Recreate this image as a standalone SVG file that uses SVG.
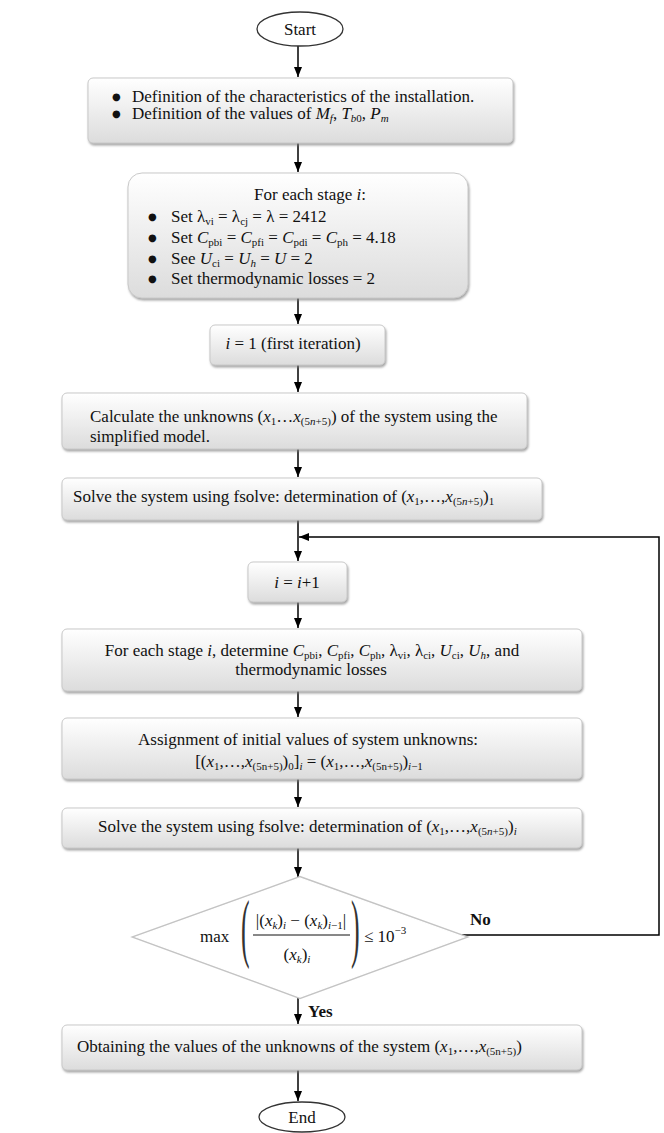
<svg xmlns="http://www.w3.org/2000/svg" width="664" height="1133" viewBox="0 0 664 1133">
<style>
text{font-family:"Liberation Serif","Times New Roman",serif;font-size:17px;fill:#111}
.box{fill:url(#g);stroke:#c9c9c9;stroke-width:1;filter:url(#sh)}
.term{fill:#fff;stroke:#333;stroke-width:1.3}
.con{fill:none;stroke:#000;stroke-width:1.5}
.arr{marker-end:url(#ah)}
.it{font-style:italic}
.sub{font-size:11px}
.b{font-weight:bold}
.mid{text-anchor:middle}
.bul{font-family:"DejaVu Sans",sans-serif;font-size:10px}
.par{font-size:76px;fill:#333}
</style>
<defs>
<linearGradient id="g" x1="0" y1="0" x2="0" y2="1">
<stop offset="0" stop-color="#ffffff"/>
<stop offset="1" stop-color="#dcdcdc"/>
</linearGradient>
<filter id="sh" x="-5%" y="-20%" width="115%" height="150%">
<feDropShadow dx="1" dy="2" stdDeviation="1" flood-color="#808080" flood-opacity="0.7"/>
</filter>
<marker id="ah" markerUnits="userSpaceOnUse" markerWidth="10" markerHeight="8" refX="10" refY="4" orient="auto">
<path d="M0,0 L10,4 L0,8 z" fill="#000"/>
</marker>
</defs>

<g id="connectors">
<line class="con arr" x1="298" y1="46" x2="298" y2="77"/>
<line class="con arr" x1="298" y1="143" x2="298" y2="172"/>
<line class="con arr" x1="298" y1="298" x2="298" y2="324"/>
<line class="con arr" x1="298" y1="365" x2="298" y2="392"/>
<line class="con arr" x1="298" y1="449" x2="298" y2="477"/>
<line class="con arr" x1="298" y1="520" x2="298" y2="561"/>
<polyline class="con arr" points="462,935 659,935 659,537 299,537"/>
<line class="con arr" x1="298" y1="602" x2="298" y2="628"/>
<line class="con arr" x1="298" y1="691" x2="298" y2="717"/>
<line class="con arr" x1="298" y1="779" x2="298" y2="807"/>
<line class="con arr" x1="298" y1="848" x2="298" y2="877"/>
<line class="con arr" x1="298" y1="997" x2="298" y2="1024"/>
<line class="con arr" x1="298" y1="1070" x2="298" y2="1101"/>
<text class="b" x="470" y="925">No</text>
<text class="b" x="308" y="1017">Yes</text>
</g>

<g id="start">
<ellipse class="term" cx="300" cy="29" rx="43" ry="17"/>
<text class="mid" x="300" y="35">Start</text>
</g>

<g id="definition">
<rect class="box" x="88" y="78" width="425" height="65" rx="5"/>
<text class="bul" x="112" y="100">●</text>
<text x="132" y="102">Definition of the characteristics of the installation.</text>
<text class="bul" x="112" y="117">●</text>
<text x="132" y="119">Definition of the values of <tspan class="it">M</tspan><tspan class="sub it" dy="3">f</tspan><tspan dy="-3">, </tspan><tspan class="it">T</tspan><tspan class="sub" dy="3"><tspan class="it">b</tspan>0</tspan><tspan dy="-3">, </tspan><tspan class="it">P</tspan><tspan class="sub it" dy="3">m</tspan></text>
</g>

<g id="init">
<rect class="box" x="128" y="173" width="340" height="125" rx="14"/>
<text class="mid" x="310" y="200">For each stage <tspan class="it">i</tspan>:</text>
<text class="bul" x="148" y="220">●</text>
<text x="171" y="222">Set λ<tspan class="sub" dy="3">vi</tspan><tspan dy="-3"> = λ</tspan><tspan class="sub" dy="3">cj</tspan><tspan dy="-3"> = λ = 2412</tspan></text>
<text class="bul" x="148" y="241">●</text>
<text x="171" y="243">Set <tspan class="it">C</tspan><tspan class="sub" dy="3">pbi</tspan><tspan dy="-3"> = </tspan><tspan class="it">C</tspan><tspan class="sub" dy="3">pfi</tspan><tspan dy="-3"> = </tspan><tspan class="it">C</tspan><tspan class="sub" dy="3">pdi</tspan><tspan dy="-3"> = </tspan><tspan class="it">C</tspan><tspan class="sub" dy="3">ph</tspan><tspan dy="-3"> = 4.18</tspan></text>
<text class="bul" x="148" y="262">●</text>
<text x="171" y="264">See <tspan class="it">U</tspan><tspan class="sub" dy="3">ci</tspan><tspan dy="-3"> = </tspan><tspan class="it">U</tspan><tspan class="sub it" dy="3">h</tspan><tspan dy="-3"> = </tspan><tspan class="it">U</tspan> = 2</text>
<text class="bul" x="148" y="282">●</text>
<text x="171" y="284">Set thermodynamic losses = 2</text>
</g>

<g id="i1">
<rect class="box" x="210" y="325" width="175" height="40" rx="5"/>
<text class="mid" x="293" y="349"><tspan class="it">i</tspan> = 1 (first iteration)</text>
</g>

<g id="calc">
<rect class="box" x="62" y="393" width="465" height="56" rx="5"/>
<text x="90" y="422">Calculate the unknowns (<tspan class="it">x</tspan><tspan class="sub" dy="3">1</tspan><tspan dy="-3">…</tspan><tspan class="it">x</tspan><tspan class="sub" dy="3">(5<tspan class="it">n</tspan>+5)</tspan><tspan dy="-3">) of the system using the</tspan></text>
<text x="90" y="442">simplified model.</text>
</g>

<g id="solve1">
<rect class="box" x="62" y="478" width="480" height="42" rx="5"/>
<text x="73" y="502">Solve the system using fsolve: determination of (<tspan class="it">x</tspan><tspan class="sub" dy="3">1</tspan><tspan dy="-3">,…,</tspan><tspan class="it">x</tspan><tspan class="sub" dy="3">(5<tspan class="it">n</tspan>+5)</tspan><tspan dy="-3">)</tspan><tspan class="sub" dy="3">1</tspan></text>
</g>

<g id="inc">
<rect class="box" x="248" y="562" width="99" height="40" rx="5"/>
<text class="mid" x="297" y="588"><tspan class="it">i</tspan> = <tspan class="it">i</tspan>+1</text>
</g>

<g id="determine">
<rect class="box" x="62" y="629" width="520" height="62" rx="5"/>
<text class="mid" x="312" y="656">For each stage <tspan class="it">i</tspan>, determine <tspan class="it">C</tspan><tspan class="sub" dy="3">pbi</tspan><tspan dy="-3">, </tspan><tspan class="it">C</tspan><tspan class="sub" dy="3">pfi</tspan><tspan dy="-3">, </tspan><tspan class="it">C</tspan><tspan class="sub" dy="3">ph</tspan><tspan dy="-3">, λ</tspan><tspan class="sub" dy="3">vi</tspan><tspan dy="-3">, λ</tspan><tspan class="sub" dy="3">ci</tspan><tspan dy="-3">, </tspan><tspan class="it">U</tspan><tspan class="sub" dy="3">ci</tspan><tspan dy="-3">, </tspan><tspan class="it">U</tspan><tspan class="sub it" dy="3">h</tspan><tspan dy="-3">, and</tspan></text>
<text class="mid" x="311" y="675">thermodynamic losses</text>
</g>

<g id="assign">
<rect class="box" x="62" y="718" width="520" height="61" rx="5"/>
<text class="mid" x="308" y="745">Assignment of initial values of system unknowns:</text>
<text class="mid" x="309" y="767">[(<tspan class="it">x</tspan><tspan class="sub" dy="3">1</tspan><tspan dy="-3">,…,</tspan><tspan class="it">x</tspan><tspan class="sub" dy="3">(5n+5)</tspan><tspan dy="-3">)</tspan><tspan class="sub" dy="3">0</tspan><tspan dy="-3">]</tspan><tspan class="sub it" dy="3">i</tspan><tspan dy="-3"> = (</tspan><tspan class="it">x</tspan><tspan class="sub" dy="3">1</tspan><tspan dy="-3">,…,</tspan><tspan class="it">x</tspan><tspan class="sub" dy="3">(5n+5)</tspan><tspan dy="-3">)</tspan><tspan class="sub" dy="3"><tspan class="it">i</tspan>−1</tspan></text>
</g>

<g id="solve2">
<rect class="box" x="62" y="808" width="520" height="40" rx="5"/>
<text x="98" y="832">Solve the system using fsolve: determination of (<tspan class="it">x</tspan><tspan class="sub" dy="3">1</tspan><tspan dy="-3">,…,</tspan><tspan class="it">x</tspan><tspan class="sub" dy="3">(5<tspan class="it">n</tspan>+5)</tspan><tspan dy="-3">)</tspan><tspan class="sub it" dy="3">i</tspan></text>
</g>

<g id="check">
<polygon points="300,878 464,937 300,997 136,937" fill="#fff" stroke="#c4c4c4" stroke-width="4"/>
<polygon points="300,878 464,937 300,997 136,937" fill="#fff" stroke="#fff" stroke-width="1.2"/>
<text x="200" y="942">max</text>
<text class="par" transform="translate(241,953) scale(0.34,1)">(</text>
<text class="par" transform="translate(351,953) scale(0.34,1)">)</text>
<text class="mid" x="301" y="926">|(<tspan class="it">x</tspan><tspan class="sub it" dy="3">k</tspan><tspan dy="-3">)</tspan><tspan class="sub it" dy="3">i</tspan><tspan dy="-3"> − (</tspan><tspan class="it">x</tspan><tspan class="sub it" dy="3">k</tspan><tspan dy="-3">)</tspan><tspan class="sub" dy="3"><tspan class="it">i</tspan>−1</tspan><tspan dy="-3">|</tspan></text>
<line x1="253" y1="935" x2="350" y2="935" stroke="#111" stroke-width="1"/>
<text class="mid" x="297" y="960">(<tspan class="it">x</tspan><tspan class="sub it" dy="3">k</tspan><tspan dy="-3">)</tspan><tspan class="sub it" dy="3">i</tspan></text>
<text x="364" y="942">≤ 10<tspan class="sub" dy="-8">−3</tspan></text>
</g>

<g id="result">
<rect class="box" x="62" y="1025" width="520" height="45" rx="5"/>
<text x="77" y="1052">Obtaining the values of the unknowns of the system (<tspan class="it">x</tspan><tspan class="sub" dy="3">1</tspan><tspan dy="-3">,…,</tspan><tspan class="it">x</tspan><tspan class="sub" dy="3">(5n+5)</tspan><tspan dy="-3">)</tspan></text>
</g>

<g id="end">
<ellipse class="term" cx="302" cy="1117" rx="43" ry="15"/>
<text class="mid" x="302" y="1123">End</text>
</g>
</svg>
